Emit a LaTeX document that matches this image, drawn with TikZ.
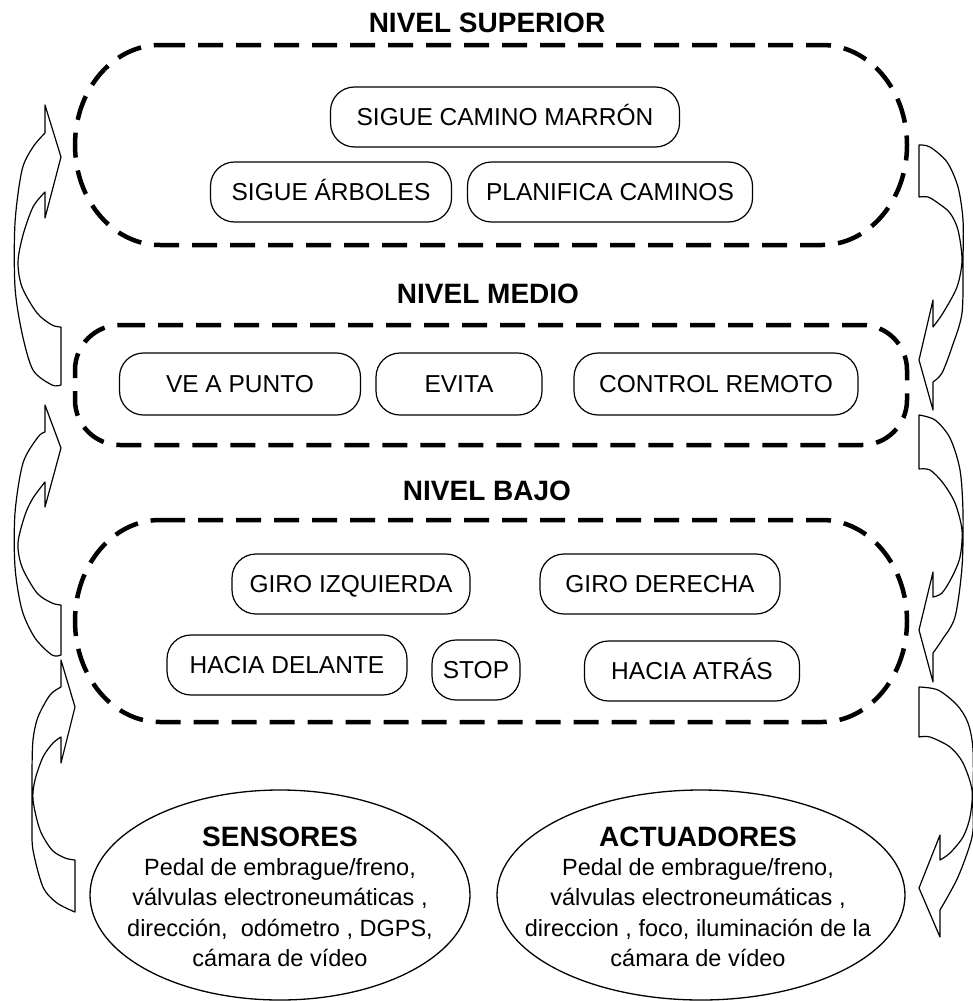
\documentclass[tikz,border=0pt]{standalone}
\usepackage{fontspec}
\setmainfont{Liberation Sans}
\usetikzlibrary{shapes.geometric}
\begin{document}
\begin{tikzpicture}[x=1pt,y=-1pt,
  levelbox/.style={line width=4.5pt, dash pattern=on 25pt off 13pt},
  behav/.style={draw, line width=1.2pt, rounded corners=24pt, minimum height=60pt,
    inner sep=0pt, text height=17.5pt, text depth=0pt,
    font=\fontsize{24.5}{28}\selectfont},
  leveltitle/.style={font=\bfseries\fontsize{28}{32}\selectfont, inner sep=0pt},
  looparrow/.style={draw, line width=1.2pt, fill=white, line join=round},
  device/.style={draw, ellipse, line width=1.3pt, inner sep=0pt,
    minimum height=210pt},
  devtext/.style={align=center, font=\fontsize{23.5}{30.5}\selectfont, inner sep=0pt}
]
\useasboundingbox (0,0) rectangle (973,1001);

% ---------- level titles ----------
\node[leveltitle] (tsup)  at (487,23)  {NIVEL SUPERIOR};
\node[leveltitle] (tmed)  at (488,294) {NIVEL MEDIO};
\node[leveltitle] (tbajo) at (487,491) {NIVEL BAJO};

% ---------- dashed level frames ----------
\draw[levelbox] (160,45) -- (822,45)
  arc[start angle=-90, end angle=90, x radius=85, y radius=100]
  -- (160,245)
  arc[start angle=90, end angle=270, x radius=85, y radius=100] -- cycle;
\draw[levelbox] (120,325) -- (862,325)
  arc[start angle=-90, end angle=0, radius=45]
  -- (907,400)
  arc[start angle=0, end angle=90, radius=45]
  -- (120,445)
  arc[start angle=90, end angle=180, radius=45]
  -- (75,370)
  arc[start angle=180, end angle=270, radius=45] -- cycle;
\draw[levelbox] (160,520) -- (822,520)
  arc[start angle=-90, end angle=90, x radius=85, y radius=101]
  -- (160,722)
  arc[start angle=90, end angle=270, x radius=85, y radius=101] -- cycle;

% ---------- behaviours ----------
\node[behav, minimum width=349pt] (marron)    at (505,117) {SIGUE CAMINO MARRÓN};
\node[behav, minimum width=241pt] (arboles)   at (331,192) {SIGUE ÁRBOLES};
\node[behav, minimum width=285pt] (planifica) at (610,192) {PLANIFICA CAMINOS};

\node[behav, minimum width=241pt, minimum height=62pt] (vepunto) at (240,384) {VE A PUNTO};
\node[behav, minimum width=166pt, minimum height=62pt] (evita)   at (459,384) {EVITA};
\node[behav, minimum width=284pt, minimum height=62pt] (control) at (716,384) {CONTROL REMOTO};

\node[behav, minimum width=238pt] (giroizq) at (351,584) {GIRO IZQUIERDA};
\node[behav, minimum width=240pt] (giroder) at (660,584) {GIRO DERECHA};
\node[behav, minimum width=240pt] (delante) at (287,665) {HACIA DELANTE};
\node[behav, minimum width=88pt]  (stop)    at (476,670) {STOP};
\node[behav, minimum width=215pt] (atras)   at (692,671) {HACIA ATRÁS};

% ---------- sensors and actuators ----------
\node[device, minimum width=380pt] (sens) at (280,895) {};
\node[devtext] (senstxt) at (280,897)
  {{\bfseries\fontsize{28}{30}\selectfont SENSORES}\\[-2pt]
   Pedal de embrague/freno,\\
   válvulas electroneumáticas ,\\
   dirección,\ \ odómetro , DGPS,\\
   cámara de vídeo};
\node[device, minimum width=408pt] (act) at (701,895) {};
\node[devtext] (acttxt) at (698,897)
  {{\bfseries\fontsize{28}{30}\selectfont ACTUADORES}\\[-2pt]
   Pedal de embrague/freno,\\
   válvulas electroneumáticas ,\\
   direccion , foco, iluminación de la\\
   cámara de vídeo};

% ---------- upward curved arrows (left) ----------
\path[looparrow] (45,105) -- (61,157) -- (45,218)
  -- plot[smooth] coordinates {(45,192) (33,207) (23,235) (18,262) (22,287) (37,313) (52,325) (61,327)}
  -- plot[smooth] coordinates {(61,385) (52,385) (33,370) (22,333) (15,287) (15,223) (22,170) (33,147) (45,133)}
  -- cycle;
\path[looparrow] (45,405) -- (61,448) -- (45,507)
  -- plot[smooth] coordinates {(45,482) (33,498) (25,515) (18,543) (22,567) (37,593) (52,603) (61,605)}
  -- plot[smooth] coordinates {(61,655) (52,655) (35,638) (22,610) (15,567) (15,513) (23,463) (38,437) (45,432)}
  -- cycle;
\path[looparrow] (61,660) -- (75,707) -- (61,763)
  -- plot[smooth] coordinates {(61,737) (53,743) (43,757) (35,780) (33,800) (40,830) (52,850) (65,858) (75,860)}
  -- plot[smooth] coordinates {(75,912) (57,903) (43,887) (33,850) (32,823) (32,773) (33,740) (38,717) (50,695) (61,687)}
  -- cycle;

% ---------- downward curved arrows (right) ----------
\path[looparrow] (919,145)
  -- plot[smooth] coordinates {(919,145) (930,147) (947,162) (958,187) (963,220) (963,260) (962,313) (952,347) (942,373) (933,382)}
  -- (933,410) -- (919,360) -- (933,300)
  -- plot[smooth] coordinates {(933,327) (943,313) (957,287) (962,260) (958,230) (950,213) (938,203) (928,197) (919,197)}
  -- cycle;
\path[looparrow] (919,415)
  -- plot[smooth] coordinates {(919,415) (935,420) (950,438) (960,470) (963,513) (962,567) (955,617) (942,640) (933,653)}
  -- (933,682) -- (919,630) -- (933,572)
  -- plot[smooth] coordinates {(933,597) (942,593) (952,577) (960,557) (962,530) (955,503) (943,483) (930,470) (919,469)}
  -- cycle;
\path[looparrow] (919,687)
  -- plot[smooth] coordinates {(919,687) (938,690) (957,705) (968,723) (973,750) (973,807) (972,837) (958,877) (940,910)}
  -- (940,937) -- (919,888) -- (940,835)
  -- plot[smooth] coordinates {(940,860) (950,853) (963,837) (970,817) (972,790) (963,763) (950,747) (930,737) (919,737)}
  -- cycle;
\end{tikzpicture}
\end{document}
